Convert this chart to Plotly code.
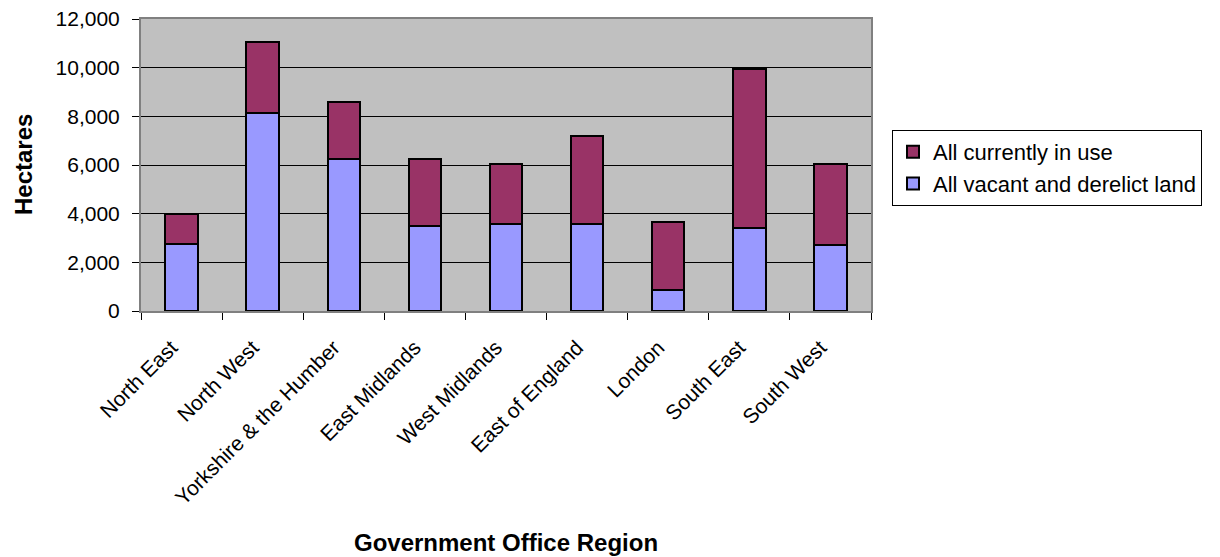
import plotly.graph_objects as go

regions = ["North East", "North West", "Yorkshire & the Humber", "East Midlands",
           "West Midlands", "East of England", "London", "South East", "South West"]
vacant_derelict = [2740, 8150, 6230, 3480, 3590, 3560, 850, 3400, 2730]
in_use = [1240, 2900, 2340, 2750, 2470, 3620, 2790, 6540, 3330]
y_ticks = [0, 2000, 4000, 6000, 8000, 10000, 12000]

FONT = "Liberation Sans, Arial, sans-serif"
L, R, T, B = 141, 871, 19, 311
W, H = 1220, 557

fig = go.Figure()
fig.add_trace(go.Bar(
    x=regions, y=vacant_derelict, name="All vacant and derelict land",
    marker=dict(color="#9999FF", line=dict(color="#000000", width=2)),
))
fig.add_trace(go.Bar(
    x=regions, y=in_use, name="All currently in use",
    marker=dict(color="#993366", line=dict(color="#000000", width=2)),
))

fig.update_layout(
    width=W, height=H,
    margin=dict(l=L, r=W - R, t=T, b=H - B, pad=0),
    barmode="stack", bargap=0.6,
    paper_bgcolor="#FFFFFF", plot_bgcolor="#C0C0C0",
    font=dict(family=FONT, size=21, color="#000000"),
    showlegend=True,
    legend=dict(
        x=(892 - L) / (R - L), y=(B - 130) / (B - T),
        xanchor="left", yanchor="top",
        traceorder="reversed",
        bgcolor="#FFFFFF", bordercolor="#000000", borderwidth=1,
        font=dict(size=22), itemwidth=30,
    ),
    xaxis=dict(
        type="category", tickangle=-45, tickson="boundaries",
        ticks="outside", ticklen=7, tickcolor="#000000", tickwidth=1,
        showline=True, linecolor="#808080", linewidth=2, mirror=True,
        showgrid=False, tickfont=dict(size=21), automargin=False,
        ticklabelstandoff=14, ticklabelshift=-10,
    ),
    yaxis=dict(
        range=[0, 12000], tickvals=y_ticks, tickformat=",d",
        ticks="outside", ticklen=7, tickcolor="#000000", tickwidth=1,
        showline=True, linecolor="#808080", linewidth=2, mirror=True,
        showgrid=True, gridcolor="#000000", gridwidth=1,
        tickfont=dict(size=21), automargin=False, ticklabelstandoff=8,
        zeroline=False,
    ),
    annotations=[
        dict(text="<b>Government Office Region</b>", xref="paper", yref="paper",
             x=0.5, y=(B - 542) / (B - T), xanchor="center", yanchor="middle",
             showarrow=False, font=dict(size=24)),
        dict(text="<b>Hectares</b>", xref="paper", yref="paper",
             x=(23 - L) / (R - L), y=0.5, xanchor="center", yanchor="middle",
             textangle=-90, showarrow=False, font=dict(size=24)),
    ],
)

fig.write_html("out.html")
